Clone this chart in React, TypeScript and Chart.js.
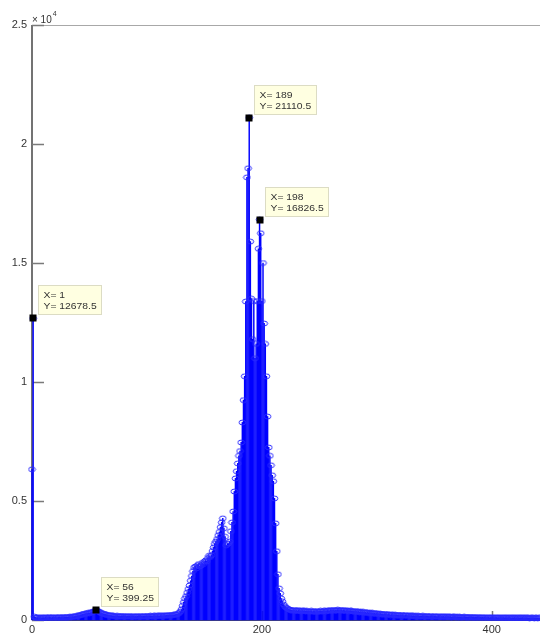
import React, { useEffect, useRef } from 'react';
import { Chart, registerables } from 'chart.js';

Chart.register(...registerables);

// Histogram counts per bin (bin index = x)
const countsSpike = [6330, 12678.5]; // bins 0-1
const countsLow = [
  140, 110, 95, 100, 90, 105, 85, 95, 100, 90,
  110, 95, 100, 120, 105, 95, 110, 100, 115, 105,
  95, 110, 120, 100, 115, 105, 120, 110, 125, 115,
  120, 130, 125, 140, 135, 150, 160, 170, 180,
]; // bins 2-40
const countsBump = [
  190, 210, 220, 240, 250, 260, 270, 285, 300, 290,
  310, 330, 345, 360, 380, 399.25, 385, 360, 330, 300,
  280, 260, 250, 235, 220, 210, 200, 190, 185, 175,
]; // bins 41-70
const countsPlateau = [
  170, 165, 160, 170, 155, 160, 150, 165, 155, 160,
  150, 145, 155, 150, 160, 145, 150, 155, 140, 150,
  145, 155, 150, 160, 150, 145, 155, 160, 150, 165,
  155, 160, 170, 165, 160, 175, 170, 165, 180, 175,
  170, 185, 180, 175, 190, 185, 195, 190, 200, 195,
  210, 205, 215, 220, 230, 240, 260,
]; // bins 71-127
const countsPeak = [
  300, 350, 450, 600, 750, 900, 1000, 1150, 1300, 1450,
  1650, 1850, 2050, 2200, 2250, 2170, 2300, 2350, 2250, 2300,
  2400, 2350, 2450, 2500, 2460, 2600, 2700, 2650, 2720, 2900,
  3050, 3200, 3300, 3400, 3560, 3700, 3900, 4100, 4270, 3850,
  3500, 3140, 3200, 3220, 3300, 3730, 4100, 4560, 5400, 5950,
  6250, 6580, 6900, 7100, 7460, 8300, 9240, 10240, 13380, 18600,
  18980, 21110.5, 15900, 13500, 11800, 13400, 11000, 11600, 13400, 15600,
  16826.5, 16250, 13400, 15000, 12460, 11600, 10240, 8550, 7250, 6900,
  6500, 6080, 5830, 5110, 4060, 2890, 1920, 1330, 1120, 900,
  780, 650, 580, 530, 490, 460, 440, 420,
]; // bins 128-225
const countsTailNear = [
  410, 400, 420, 390, 400, 380, 410, 390, 370, 400, 380, 390, 370, 380, 360,
  370, 360, 380, 350, 370, 360, 340, 370, 350, 360, 380, 370, 360, 390, 380, 370, 400, 390, 380, 410,
  400, 420, 390, 410, 400, 430, 410, 400, 420, 390, 410, 400, 380, 400, 390, 370, 390, 380, 360, 370,
  350, 370, 340, 360, 330, 350, 320, 340, 310, 330, 300, 320, 290, 310, 280, 300, 270, 290, 260, 280,
]; // bins 226-300
const countsTailMid = [
  260, 250, 270, 240, 250, 230, 250, 240, 220, 240,
  230, 210, 230, 220, 200, 220, 210, 200, 210, 190,
  200, 210, 190, 180, 200, 190, 180, 190, 170, 180,
  170, 180, 160, 175, 165, 170, 155, 165, 160, 170,
  150, 160, 155, 165, 150, 145, 160, 150, 140, 155,
  150, 145, 140, 150, 135, 145, 140, 150, 130, 140,
  135, 145, 130, 140, 125, 135, 130, 140, 120, 130,
]; // bins 301-370
const countsTailFar = [
  125, 130, 120, 125, 115, 130, 120, 125, 110, 120, 115, 125,
  110, 120, 105, 115, 110, 120, 100, 110, 105, 115, 100, 110,
  105, 100, 110, 95, 105, 100, 110, 95, 100, 105, 95, 100,
  90, 100, 95, 105, 90, 100, 95, 90, 100, 95, 85, 95,
  90, 100, 85, 95, 90, 85, 95, 90, 100, 85, 90, 95,
  85, 90, 80, 90, 85, 95, 80, 90, 85, 80, 90, 85,
]; // bins 371-442

const counts = [
  ...countsSpike, ...countsLow, ...countsBump, ...countsPlateau,
  ...countsPeak, ...countsTailNear, ...countsTailMid, ...countsTailFar,
];

const xTickValues = [0, 200, 400];
const yTickValues = [0, 5000, 10000, 15000, 20000, 25000];
const xLimits = [0, 442];
const yLimits = [0, 25000];
const yExponentBase = '× 10';
const yExponentPower = '4';
const dataTipBins = [1, 56, 189, 198];

const FONT = '"Liberation Sans", Arial, Helvetica, sans-serif';

const decorPlugin = {
  id: 'matlabDecor',
  beforeDraw(chart: any) {
    const { ctx, width, height } = chart;
    ctx.save();
    ctx.fillStyle = '#ffffff';
    ctx.fillRect(0, 0, width, height);
    ctx.restore();
  },
  beforeDatasetsDraw(chart: any) {
    const { ctx, chartArea: a, scales } = chart;
    const xs = scales.x;
    const ys = scales.y;
    ctx.save();
    ctx.lineWidth = 1;
    ctx.strokeStyle = '#a8a8a8';
    ctx.beginPath();
    ctx.moveTo(a.left, a.top + 0.5);
    ctx.lineTo(a.right, a.top + 0.5);
    ctx.stroke();
    ctx.strokeStyle = '#555555';
    ctx.beginPath();
    ctx.moveTo(a.left, a.bottom + 0.5);
    ctx.lineTo(a.right, a.bottom + 0.5);
    ctx.stroke();
    ctx.lineWidth = 1.5;
    ctx.strokeStyle = '#444444';
    ctx.beginPath();
    ctx.moveTo(a.left, a.top);
    ctx.lineTo(a.left, a.bottom);
    ctx.stroke();
    ctx.lineWidth = 1.5;
    ctx.strokeStyle = '#7a7a7a';
    ctx.beginPath();
    for (const v of yTickValues) {
      const y = Math.round(ys.getPixelForValue(v)) + 0.5;
      ctx.moveTo(a.left, y);
      ctx.lineTo(a.left + 12, y);
    }
    for (const v of xTickValues) {
      const x = Math.round(xs.getPixelForValue(v)) + 0.5;
      ctx.moveTo(x, a.bottom);
      ctx.lineTo(x, a.bottom - 9);
    }
    ctx.stroke();
    ctx.restore();
  },
  afterDatasetsDraw(chart: any) {
    const { ctx, scales } = chart;
    const xs = scales.x;
    const ys = scales.y;
    const sx = 1.15;
    ctx.save();
    ctx.font = `9px ${FONT}`;
    for (const b of dataTipBins) {
      const v = counts[b];
      const px = xs.getPixelForValue(b);
      const py = ys.getPixelForValue(v);
      const l1 = `X= ${b}`;
      const l2 = `Y= ${v}`;
      const tw = Math.max(ctx.measureText(l1).width, ctx.measureText(l2).width) * sx;
      const bx = Math.round(px + 5) + 0.5;
      const by = Math.round(py - 33) + 0.5;
      const bw = Math.round(tw + 10);
      const bh = 29;
      ctx.fillStyle = '#ffffe1';
      ctx.fillRect(bx, by, bw, bh);
      ctx.strokeStyle = '#dcdcc4';
      ctx.lineWidth = 1;
      ctx.strokeRect(bx, by, bw, bh);
      ctx.save();
      ctx.translate(bx + 5, by + 12);
      ctx.scale(sx, 1);
      ctx.fillStyle = '#333333';
      ctx.textBaseline = 'alphabetic';
      ctx.fillText(l1, 0, 0);
      ctx.fillText(l2, 0, 11);
      ctx.restore();
      ctx.fillStyle = '#000000';
      ctx.fillRect(Math.round(px) - 3.5, Math.round(py) - 3.5, 7, 7);
    }
    ctx.restore();
  },
  afterDraw(chart: any) {
    const { ctx, chartArea: a } = chart;
    ctx.save();
    ctx.fillStyle = '#333333';
    ctx.textBaseline = 'alphabetic';
    ctx.font = `10px ${FONT}`;
    const x0 = a.left;
    ctx.fillText(yExponentBase, x0, a.top - 2);
    const w = ctx.measureText(yExponentBase).width;
    ctx.font = `7px ${FONT}`;
    ctx.fillText(yExponentPower, x0 + w + 1, a.top - 9);
    ctx.restore();
  },
};

function makeMarker(): HTMLCanvasElement {
  const c = document.createElement('canvas');
  c.width = 9;
  c.height = 7;
  const g = c.getContext('2d')!;
  g.strokeStyle = '#2a2aff';
  g.lineWidth = 1;
  g.beginPath();
  g.ellipse(4.5, 3.5, 3.3, 2.4, 0, 0, Math.PI * 2);
  g.stroke();
  return c;
}

export default function App() {
  const ref = useRef<HTMLCanvasElement>(null);

  useEffect(() => {
    document.body.style.margin = '0';
    const points = counts.map((y, i) => ({ x: i, y }));
    const marker = makeMarker();
    const chart = new Chart(ref.current!, {
      type: 'bar',
      data: {
        datasets: [
          {
            type: 'scatter',
            data: points,
            pointStyle: marker as any,
            pointRadius: 3.5,
            borderColor: '#2a2aff',
            backgroundColor: 'rgba(0,0,0,0)',
            showLine: false,
            clip: false as any,
            order: 1,
          } as any,
          {
            type: 'bar',
            data: points,
            backgroundColor: '#0000ff',
            borderWidth: 0,
            barThickness: 0.8,
            clip: false as any,
            order: 2,
          } as any,
        ],
      },
      options: {
        responsive: false,
        animation: false,
        devicePixelRatio: 1,
        layout: { autoPadding: false, padding: { top: 25, left: 0, right: 0, bottom: 0 } },
        plugins: {
          legend: { display: false },
          tooltip: { enabled: false },
        },
        scales: {
          x: {
            type: 'linear',
            min: xLimits[0],
            max: xLimits[1],
            offset: false,
            grid: { display: false, drawTicks: false },
            border: { display: false },
            ticks: {
              color: '#333333',
              font: { family: FONT, size: 11 },
              padding: 3,
              maxRotation: 0,
              autoSkip: false,
              callback: (v: any) => String(v),
            },
            afterBuildTicks: (s: any) => {
              s.ticks = xTickValues.map((value) => ({ value }));
            },
            afterFit: (s: any) => {
              s.height = 14;
            },
          },
          y: {
            type: 'linear',
            min: yLimits[0],
            max: yLimits[1],
            grid: { display: false, drawTicks: false },
            border: { display: false },
            ticks: {
              color: '#333333',
              font: { family: FONT, size: 11 },
              padding: 5,
              callback: (v: any) => String(Number(v) / 10000),
            },
            afterBuildTicks: (s: any) => {
              s.ticks = yTickValues.map((value) => ({ value }));
            },
            afterFit: (s: any) => {
              s.width = 32;
            },
          },
        },
      } as any,
      plugins: [decorPlugin],
    });
    return () => chart.destroy();
  }, []);

  return (
    <canvas
      ref={ref}
      width={540}
      height={634}
      style={{ display: 'block', width: 540, height: 634 }}
    />
  );
}
